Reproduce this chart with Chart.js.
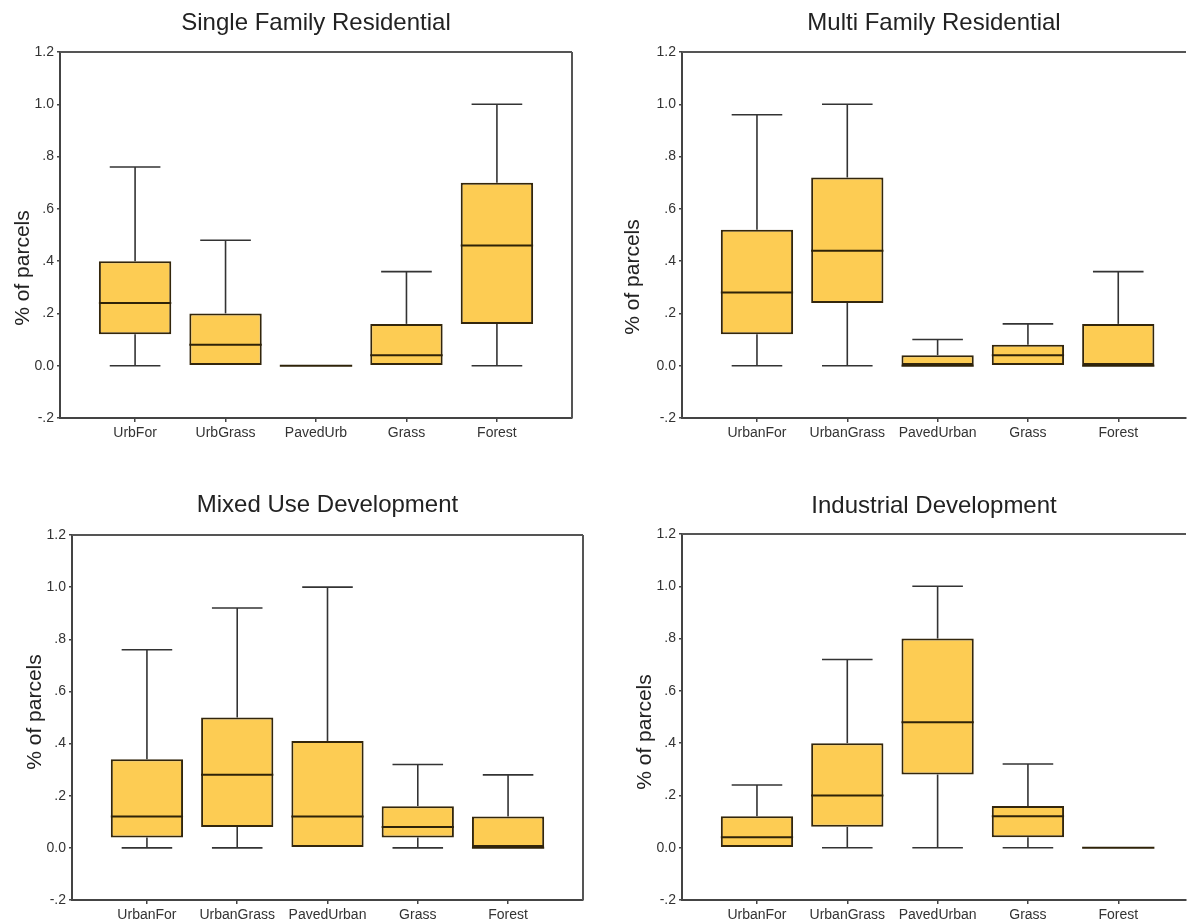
<!DOCTYPE html>
<html>
<head>
<meta charset="utf-8">
<title>% of parcels by land cover</title>
<script src="https://cdn.jsdelivr.net/npm/chart.js@4.4.1/dist/chart.umd.min.js"></script>
<style>
  body { margin: 0; background: #fff; width: 1192px; height: 923px; overflow: hidden; position: relative; }
  canvas { position: absolute; }
</style>
</head>
<body>
<canvas id="sfr" width="596" height="460" style="left:0;top:0"></canvas>
<canvas id="mfr" width="596" height="460" style="left:596px;top:0"></canvas>
<canvas id="mixed" width="596" height="443" style="left:0;top:480px"></canvas>
<canvas id="industrial" width="596" height="443" style="left:596px;top:480px"></canvas>
<script>
// categories
const sfrCategories = ["UrbFor", "UrbGrass", "PavedUrb", "Grass", "Forest"];
const otherCategories = ["UrbanFor", "UrbanGrass", "PavedUrban", "Grass", "Forest"];

// y ticks
const yTicks = [-0.2, 0, 0.2, 0.4, 0.6, 0.8, 1.0, 1.2];

// Single Family Residential
const sfrMin    = [0, 0, 0, 0, 0];
const sfrQ1     = [0.12, 0, 0, 0, 0.16];
const sfrMedian = [0.24, 0.08, 0, 0.04, 0.46];
const sfrQ3     = [0.40, 0.20, 0, 0.16, 0.70];
const sfrMax    = [0.76, 0.48, 0, 0.36, 1.00];

// Multi Family Residential
const mfrMin    = [0, 0, 0, 0, 0];
const mfrQ1     = [0.12, 0.24, 0, 0, 0];
const mfrMedian = [0.28, 0.44, 0, 0.04, 0];
const mfrQ3     = [0.52, 0.72, 0.04, 0.08, 0.16];
const mfrMax    = [0.96, 1.00, 0.10, 0.16, 0.36];

// Mixed Use Development
const mixedMin    = [0, 0, 0, 0, 0];
const mixedQ1     = [0.04, 0.08, 0, 0.04, 0];
const mixedMedian = [0.12, 0.28, 0.12, 0.08, 0];
const mixedQ3     = [0.34, 0.50, 0.41, 0.16, 0.12];
const mixedMax    = [0.76, 0.92, 1.00, 0.32, 0.28];

// Industrial Development
const indMin    = [0, 0, 0, 0, 0];
const indQ1     = [0, 0.08, 0.28, 0.04, 0];
const indMedian = [0.04, 0.20, 0.48, 0.12, 0];
const indQ3     = [0.12, 0.40, 0.80, 0.16, 0];
const indMax    = [0.24, 0.72, 1.00, 0.32, 0];

const FONT = "'Liberation Sans', Arial, sans-serif";
Chart.defaults.font.family = FONT;
Chart.defaults.color = "#333";

const panels = [
  { id: "sfr", title: "Single Family Residential", labels: sfrCategories,
    min: sfrMin, q1: sfrQ1, median: sfrMedian, q3: sfrQ3, max: sfrMax,
    box: { left: 60, right: 572, bottom: 418, titleTop: 8.6, titleBottom: 14.6, labelX: 23, labelY: 268, xMax: 4.83, frameRight: true } },
  { id: "mfr", title: "Multi Family Residential", labels: otherCategories,
    min: mfrMin, q1: mfrQ1, median: mfrMedian, q3: mfrQ3, max: mfrMax,
    box: { left: 86, right: 590, bottom: 418, titleTop: 8.6, titleBottom: 14.6, labelX: 37, labelY: 277, xMax: 4.75, frameRight: false } },
  { id: "mixed", title: "Mixed Use Development", labels: otherCategories,
    min: mixedMin, q1: mixedQ1, median: mixedMedian, q3: mixedQ3, max: mixedMax,
    box: { left: 72, right: 583, bottom: 420, titleTop: 11, titleBottom: 15.2, labelX: 35, labelY: 232, xMax: 4.83, frameRight: true } },
  { id: "industrial", title: "Industrial Development", labels: otherCategories,
    min: indMin, q1: indQ1, median: indMedian, q3: indQ3, max: indMax,
    box: { left: 86, right: 590, bottom: 420, titleTop: 12, titleBottom: 13.2, labelX: 49, labelY: 252, xMax: 4.75, frameRight: false } }
];

function tickText(v) {
  if (Math.abs(v) < 1e-9) return "0.0";
  const s = v.toFixed(1);
  return Math.abs(v) < 1 ? s.replace("0.", ".") : s;
}

// whiskers, caps, medians, top/right frame and the y label
function boxPlugin(p) {
  return {
    id: "boxPlot",
    afterDatasetsDraw(chart) {
      const { ctx, chartArea, scales: { x, y } } = chart;
      const bars = chart.getDatasetMeta(0).data;
      const unit = Math.abs(x.getPixelForValue(1) - x.getPixelForValue(0));
      const capHalf = unit * 0.28;
      const line = (x1, y1, x2, y2) => { ctx.beginPath(); ctx.moveTo(x1, y1); ctx.lineTo(x2, y2); ctx.stroke(); };

      ctx.save();
      p.median.forEach((m, i) => {
        const cx = x.getPixelForValue(i);
        ctx.strokeStyle = "#333";
        ctx.lineWidth = 1.6;
        if (p.max[i] > p.q3[i]) {
          line(cx, y.getPixelForValue(p.q3[i]), cx, y.getPixelForValue(p.max[i]));
          line(cx - capHalf, y.getPixelForValue(p.max[i]), cx + capHalf, y.getPixelForValue(p.max[i]));
        }
        if (p.min[i] < p.q1[i]) {
          line(cx, y.getPixelForValue(p.q1[i]), cx, y.getPixelForValue(p.min[i]));
          line(cx - capHalf, y.getPixelForValue(p.min[i]), cx + capHalf, y.getPixelForValue(p.min[i]));
        }
        const half = bars[i].width / 2;
        ctx.strokeStyle = "#2e2208";
        ctx.lineWidth = 2;
        line(cx - half, y.getPixelForValue(m), cx + half, y.getPixelForValue(m));
      });

      ctx.strokeStyle = "#555";
      ctx.lineWidth = 2;
      line(chartArea.left, chartArea.top, chartArea.right, chartArea.top);
      if (p.box.frameRight) line(chartArea.right, chartArea.top, chartArea.right, chartArea.bottom);

      ctx.translate(p.box.labelX, p.box.labelY);
      ctx.rotate(-Math.PI / 2);
      ctx.font = "21px " + FONT;
      ctx.fillStyle = "#222";
      ctx.textAlign = "center";
      ctx.textBaseline = "middle";
      ctx.fillText("% of parcels", 0, 0);
      ctx.restore();
    }
  };
}

panels.forEach(p => {
  const canvas = document.getElementById(p.id);
  new Chart(canvas, {
    type: "bar",
    data: {
      datasets: [{
        data: p.labels.map((c, i) => ({ x: i, y: [p.q1[i], p.q3[i]] })),
        backgroundColor: "#FDCC53",
        borderColor: "#33260c",
        borderWidth: 2,
        borderSkipped: false,
        barPercentage: 0.8,
        categoryPercentage: 1.0
      }]
    },
    options: {
      responsive: false,
      animation: false,
      layout: { padding: { left: 0, right: canvas.width - p.box.right, top: 0, bottom: 0 } },
      plugins: {
        legend: { display: false },
        tooltip: { enabled: false },
        title: {
          display: true,
          text: p.title,
          fullSize: false,
          color: "#222",
          font: { size: 24, weight: "normal", lineHeight: 1.2 },
          padding: { top: p.box.titleTop, bottom: p.box.titleBottom }
        }
      },
      scales: {
        x: {
          type: "linear",
          min: -0.83,
          max: p.box.xMax,
          offset: false,
          afterFit: s => { s.height = canvas.height - p.box.bottom; },
          afterBuildTicks: s => { s.ticks = p.labels.map((c, i) => ({ value: i })); },
          ticks: { callback: v => p.labels[v], font: { size: 14 }, color: "#333", padding: 3, maxRotation: 0, autoSkip: false },
          grid: { offset: false, drawOnChartArea: false, drawTicks: true, tickLength: 4, tickColor: "#444", lineWidth: 1.5 },
          border: { display: true, color: "#444", width: 2 }
        },
        y: {
          min: -0.2,
          max: 1.2,
          afterFit: s => { s.width = p.box.left; },
          afterBuildTicks: s => { s.ticks = yTicks.map(v => ({ value: v })); },
          ticks: { callback: v => tickText(v), font: { size: 14 }, color: "#333", padding: 3 },
          grid: { drawOnChartArea: false, drawTicks: true, tickLength: 3, tickColor: "#444", lineWidth: 1.5 },
          border: { display: true, color: "#444", width: 2 }
        }
      }
    },
    plugins: [boxPlugin(p)]
  });
});
</script>
</body>
</html>
